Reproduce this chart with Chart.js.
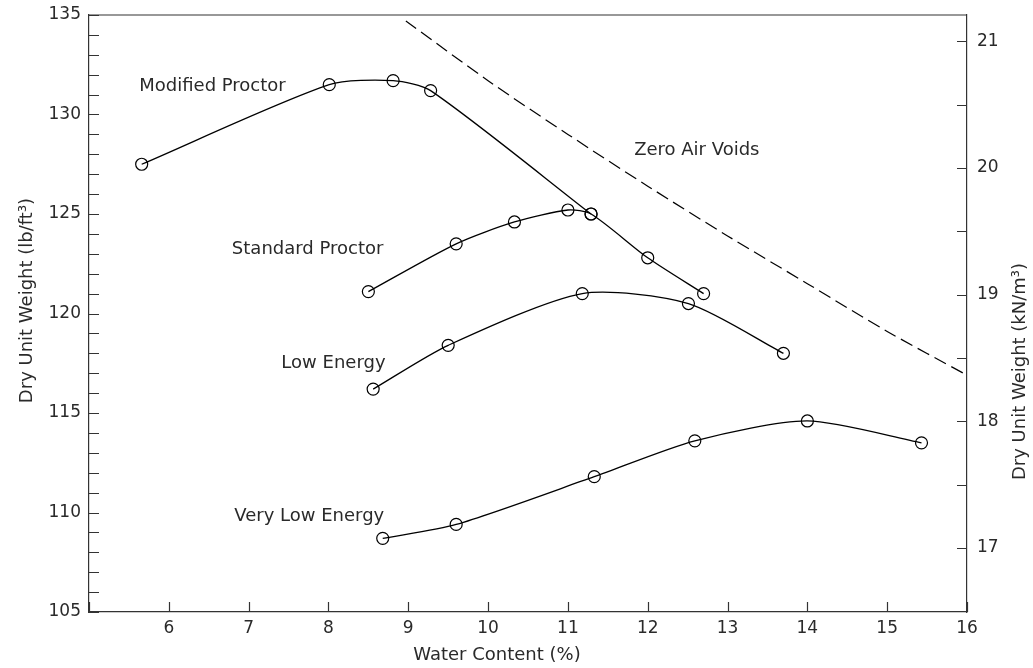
<!DOCTYPE html>
<html>
<head>
<meta charset="utf-8">
<title>Compaction curves</title>
<script src="https://cdn.jsdelivr.net/npm/chart.js@4.4.1/dist/chart.umd.min.js"></script>
<style>
  html, body { margin: 0; padding: 0; background: #fff; }
  #wrap { width: 1033px; height: 668px; }
</style>
</head>
<body>
<div id="wrap"><canvas id="chart" width="1033" height="668"></canvas></div>
<script>
// compaction test results: water content (%) vs dry unit weight (lb/ft3)
const waterModified = [5.66, 8.01, 8.81, 9.28, 11.29];
const gammaModified = [127.5, 131.5, 131.7, 131.2, 125.0];

const waterStandard = [8.50, 9.60, 10.33, 11.00, 11.29, 12.00, 12.70];
const gammaStandard = [121.1, 123.5, 124.6, 125.2, 125.0, 122.8, 121.0];

const waterLow = [8.56, 9.50, 11.18, 12.51, 13.70];
const gammaLow = [116.2, 118.4, 121.0, 120.5, 118.0];

const waterVeryLow = [8.68, 9.60, 11.33, 12.59, 14.00, 15.43];
const gammaVeryLow = [108.7, 109.4, 111.8, 113.6, 114.6, 113.5];

// zero air voids line
const waterZav = [8.97, 10, 11, 12, 13, 14, 15, 16];
const gammaZav = [134.7, 131.7, 129.0, 126.4, 123.9, 121.5, 119.1, 116.9];

// curve names, placed next to each curve (water %, lb/ft3)
const curveNames = ["Modified Proctor", "Standard Proctor", "Low Energy", "Very Low Energy", "Zero Air Voids"];
const nameWater = [5.63, 6.79, 7.41, 6.82, 11.83];
const nameGamma = [131.4, 123.2, 117.5, 109.8, 128.2];

const PCF_PER_KN = 6.3658; // 1 kN/m3 in lb/ft3
const axisColor = "#333";
const textColor = "#2a2a2a";
const fontFamily = "'DejaVu Sans', sans-serif";

function pairs(xs, ys) {
  return xs.map((x, i) => ({ x: x, y: ys[i] }));
}

function curve(xs, ys) {
  return {
    data: pairs(xs, ys),
    borderColor: "#000",
    borderWidth: 1.3,
    tension: 0.25,
    pointRadius: 6,
    pointStyle: "circle",
    pointBackgroundColor: "rgba(0,0,0,0)",
    pointBorderColor: "#000",
    pointBorderWidth: 1.2,
    fill: false
  };
}

// keep the plot box fixed: no extra room for the end labels
function fixBox(size) {
  return s => {
    if (s.isHorizontal()) s.height = size; else s.width = size;
    s.paddingTop = 0;
    s.paddingBottom = 0;
    s.paddingLeft = 0;
    s.paddingRight = 0;
  };
}

// frame, inward tick marks, axis titles and curve names
const decorations = {
  id: "decorations",
  afterDraw(chart) {
    const { ctx, chartArea: a, scales } = chart;
    ctx.save();
    ctx.strokeStyle = axisColor;
    ctx.lineWidth = 1.2;
    ctx.beginPath();
    ctx.moveTo(a.left, a.top);
    ctx.lineTo(a.right, a.top);
    scales.x.ticks.forEach(t => {
      const px = Math.round(scales.x.getPixelForValue(t.value)) + 0.5;
      ctx.moveTo(px, a.bottom);
      ctx.lineTo(px, a.bottom - 10);
    });
    scales.y.ticks.forEach(t => {
      const py = Math.round(scales.y.getPixelForValue(t.value)) + 0.5;
      ctx.moveTo(a.left, py);
      ctx.lineTo(a.left + 10, py);
    });
    scales.yk.ticks.forEach(t => {
      const py = Math.round(scales.yk.getPixelForValue(t.value)) + 0.5;
      ctx.moveTo(a.right, py);
      ctx.lineTo(a.right - 10, py);
    });
    ctx.stroke();

    ctx.fillStyle = textColor;
    ctx.textBaseline = "middle";

    // curve names
    ctx.font = "18px " + fontFamily;
    ctx.textAlign = "left";
    curveNames.forEach((name, i) => {
      ctx.fillText(name, scales.x.getPixelForValue(nameWater[i]), scales.y.getPixelForValue(nameGamma[i]));
    });

    // axis titles
    ctx.font = "18px " + fontFamily;
    ctx.textAlign = "center";
    const midX = (a.left + a.right) / 2;
    const midY = (a.top + a.bottom) / 2;
    ctx.fillText("Water Content (%)", midX - 31, chart.height - 13);

    ctx.save();
    ctx.translate(27, midY - 13);
    ctx.rotate(-Math.PI / 2);
    ctx.fillText("Dry Unit Weight (lb/ft\u00b3)", 0, 0);
    ctx.restore();

    ctx.save();
    ctx.translate(chart.width - 13, midY + 58);
    ctx.rotate(-Math.PI / 2);
    ctx.fillText("Dry Unit Weight (kN/m\u00b3)", 0, 0);
    ctx.restore();

    ctx.restore();
  }
};

const zav = {
  data: pairs(waterZav, gammaZav),
  borderColor: "#000",
  borderWidth: 1.2,
  borderDash: [13, 6],
  tension: 0.3,
  pointRadius: 0,
  fill: false
};

new Chart(document.getElementById("chart"), {
  type: "line",
  data: {
    datasets: [
      curve(waterModified, gammaModified),
      curve(waterStandard, gammaStandard),
      curve(waterLow, gammaLow),
      curve(waterVeryLow, gammaVeryLow),
      zav
    ]
  },
  options: {
    responsive: false,
    animation: false,
    devicePixelRatio: 1,
    layout: { padding: { top: 15, left: 0, right: 0, bottom: 0 } },
    plugins: { legend: { display: false }, tooltip: { enabled: false } },
    scales: {
      x: {
        type: "linear",
        min: 5,
        max: 16,
        grid: { display: false, drawTicks: false },
        border: { display: true, color: axisColor, width: 1.2 },
        ticks: {
          stepSize: 1,
          padding: 6,
          maxRotation: 0,
          color: textColor,
          font: { family: fontFamily, size: 17 },
          callback: v => (v === 5 ? "" : v)
        },
        afterFit: fixBox(56)
      },
      y: {
        position: "left",
        min: 105,
        max: 135,
        grid: { display: false, drawTicks: false },
        border: { display: true, color: axisColor, width: 1.2 },
        ticks: {
          stepSize: 1,
          padding: 8,
          autoSkip: false,
          color: textColor,
          font: { family: fontFamily, size: 17 },
          callback: v => (v % 5 === 0 ? v : "")
        },
        afterFit: fixBox(89)
      },
      yk: {
        position: "right",
        min: 105 / PCF_PER_KN,
        max: 135 / PCF_PER_KN,
        grid: { display: false, drawTicks: false },
        border: { display: true, color: axisColor, width: 1.2 },
        ticks: {
          stepSize: 0.5,
          includeBounds: false,
          padding: 10,
          autoSkip: false,
          color: textColor,
          font: { family: fontFamily, size: 17 },
          callback: v => (Number.isInteger(v) ? v : "")
        },
        afterFit: fixBox(66)
      }
    }
  },
  plugins: [decorations]
});
</script>
</body>
</html>
